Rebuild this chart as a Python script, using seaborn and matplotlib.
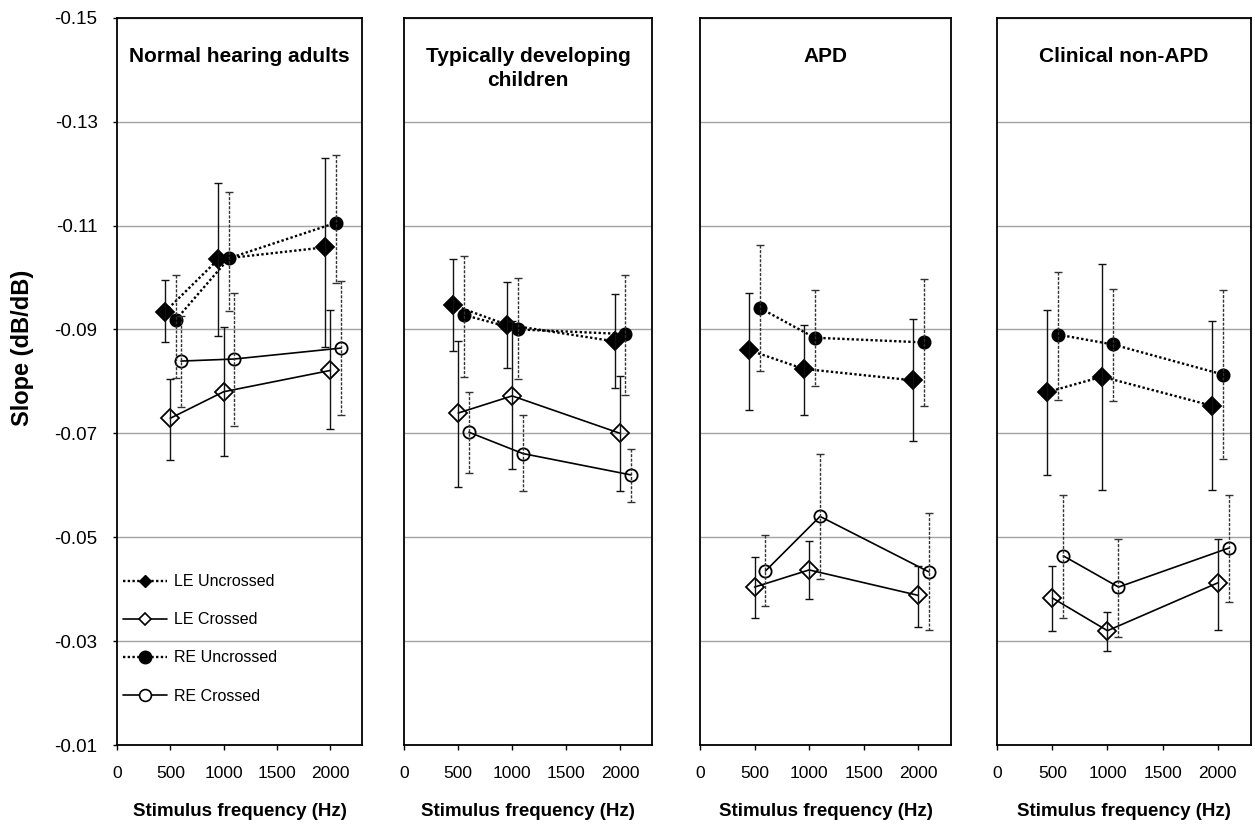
import numpy as np
import matplotlib
matplotlib.use("Agg")
import matplotlib.pyplot as plt
from matplotlib.lines import Line2D
import seaborn as sns

# ---------------- data ----------------
groups = ["Normal hearing adults", "Typically developing\nchildren", "APD", "Clinical non-APD"]
series_names = ["LE Uncrossed", "LE Crossed", "RE Uncrossed", "RE Crossed"]

# x positions (Hz), slightly offset per series
le_unc_x = [450, 950, 1950]
le_cr_x = [500, 1000, 2000]
re_unc_x = [550, 1050, 2050]
re_cr_x = [600, 1100, 2100]

# means (one row per group)
le_unc_mean = [[-0.0934, -0.1035, -0.1058],
               [-0.0947, -0.0909, -0.0877],
               [-0.0860, -0.0824, -0.0802],
               [-0.0779, -0.0809, -0.0753]]
le_unc_top = [[-0.0996, -0.1181, -0.1230],
              [-0.1035, -0.0991, -0.0969],
              [-0.0971, -0.0909, -0.0920],
              [-0.0938, -0.1026, -0.0917]]
le_unc_bot = [[-0.0875, -0.0888, -0.0867],
              [-0.0859, -0.0825, -0.0787],
              [-0.0744, -0.0736, -0.0685],
              [-0.0619, -0.0591, -0.0591]]

le_cr_mean = [[-0.0729, -0.0780, -0.0821],
              [-0.0739, -0.0772, -0.0700],
              [-0.0404, -0.0437, -0.0388],
              [-0.0383, -0.0320, -0.0412]]
le_cr_top = [[-0.0805, -0.0904, -0.0937],
             [-0.0877, -0.0917, -0.0811],
             [-0.0462, -0.0493, -0.0445],
             [-0.0445, -0.0356, -0.0497]]
le_cr_bot = [[-0.0649, -0.0656, -0.0708],
             [-0.0597, -0.0631, -0.0589],
             [-0.0345, -0.0381, -0.0328],
             [-0.0320, -0.0281, -0.0322]]

re_unc_mean = [[-0.0918, -0.1037, -0.1105],
               [-0.0928, -0.0900, -0.0891],
               [-0.0941, -0.0884, -0.0875],
               [-0.0890, -0.0871, -0.0813]]
re_unc_top = [[-0.1005, -0.1164, -0.1235],
              [-0.1042, -0.0999, -0.1005],
              [-0.1063, -0.0976, -0.0997],
              [-0.1011, -0.0977, -0.0976]]
re_unc_bot = [[-0.0806, -0.0936, -0.0990],
              [-0.0809, -0.0804, -0.0774],
              [-0.0819, -0.0792, -0.0753],
              [-0.0765, -0.0763, -0.0650]]

re_cr_mean = [[-0.0839, -0.0843, -0.0864],
              [-0.0702, -0.0661, -0.0620],
              [-0.0435, -0.0540, -0.0433],
              [-0.0464, -0.0404, -0.0479]]
re_cr_top = [[-0.0926, -0.0970, -0.0994],
             [-0.0780, -0.0735, -0.0670],
             [-0.0505, -0.0660, -0.0546],
             [-0.0581, -0.0497, -0.0581]]
re_cr_bot = [[-0.0750, -0.0715, -0.0735],
             [-0.0624, -0.0589, -0.0567],
             [-0.0368, -0.0420, -0.0322],
             [-0.0345, -0.0308, -0.0376]]

y_ticks = [-0.15, -0.13, -0.11, -0.09, -0.07, -0.05, -0.03, -0.01]
x_ticks = [0, 500, 1000, 1500, 2000]

# ---------------- style ----------------
sns.set_theme(style="white")
plt.rcParams["font.family"] = ["Liberation Sans", "DejaVu Sans"]
plt.rcParams["axes.unicode_minus"] = False
for key in ["text.color", "axes.labelcolor", "xtick.color", "ytick.color"]:
    plt.rcParams[key] = "black"

W, H = 1255, 825
fig = plt.figure(figsize=(W / 100, H / 100), dpi=100)

panel_px = [(117.0, 362.3), (404.3, 652.3), (700.0, 951.0), (997.3, 1250.7)]
top_px, bot_px = 17.7, 745.0

series_specs = [
    # x, mean, top, bot, marker, ms, filled, line style, lw, errbar dashed
    (le_unc_x, le_unc_mean, le_unc_top, le_unc_bot, "D", 9.0, True, (0, (1, 1)), 1.7, False),
    (le_cr_x, le_cr_mean, le_cr_top, le_cr_bot, "D", 9.0, False, "-", 1.2, False),
    (re_unc_x, re_unc_mean, re_unc_top, re_unc_bot, "o", 8.8, True, (0, (1, 1)), 1.7, True),
    (re_cr_x, re_cr_mean, re_cr_top, re_cr_bot, "o", 8.8, False, "-", 1.2, True),
]

axes = []
for gi, (x0, x1) in enumerate(panel_px):
    ax = fig.add_axes([x0 / W, 1 - bot_px / H, (x1 - x0) / W, (bot_px - top_px) / H])
    axes.append(ax)
    ax.set_xlim(0, 2300)
    ax.set_ylim(-0.01, -0.15)
    ax.set_yticks(y_ticks)
    ax.set_xticks(x_ticks)
    ax.grid(axis="y", color="#a3a3a3", linewidth=1.0)
    ax.grid(axis="x", visible=False)
    ax.set_axisbelow(True)
    for sp in ax.spines.values():
        sp.set_visible(True)
        sp.set_color("black")
        sp.set_linewidth(1.3)

    for (xs, mean, top, bot, mk, ms, filled, ls, lw, dashed_err) in series_specs:
        m = np.array(mean[gi])
        t = np.array(top[gi])
        b = np.array(bot[gi])
        lo = np.minimum(t, b)
        hi = np.maximum(t, b)
        sns.lineplot(x=xs, y=m, ax=ax, color="black", linestyle=ls, linewidth=lw,
                     marker=mk, markersize=ms,
                     markerfacecolor="black" if filled else "none",
                     markeredgecolor="black", markeredgewidth=1.3,
                     sort=False, legend=False, errorbar=None, zorder=3)
        eb = ax.errorbar(xs, m, yerr=[m - lo, hi - m], fmt="none",
                         ecolor="#111111" if not dashed_err else "#333333",
                         elinewidth=1.0, capsize=3, capthick=1.0, zorder=4)
        if dashed_err:
            for lc in eb[2]:
                lc.set_linestyle((0, (2.2, 1.1)))

    nlines = groups[gi].count("\n") + 1
    base_px = 61.7 + 24.3 * (nlines - 1)
    ax.text(0.5, (bot_px - base_px) / (bot_px - top_px), groups[gi], transform=ax.transAxes,
            ha="center", va="baseline", fontsize=15, fontweight="bold",
            linespacing=1.3, color="black")

    ax.tick_params(axis="x", direction="out", length=3.6, width=1.0, pad=11.5,
                   labelsize=12.5, colors="black", bottom=True)
    ax.set_xlabel("Stimulus frequency (Hz)", fontsize=13.5, fontweight="bold",
                  labelpad=16, color="black")
    if gi == 0:
        ax.tick_params(axis="y", direction="out", length=3, width=1.0, pad=11,
                       labelsize=13.5, left=True, colors="black")
        ax.set_yticklabels([f"{v:.2f}" for v in y_ticks])
    else:
        ax.tick_params(axis="y", left=False, labelleft=False)
    ax.set_ylabel("")

fig.text(23 / W, 1 - 348 / H, "Slope (dB/dB)", rotation=90, ha="center", va="center",
         fontsize=17, fontweight="bold", color="black")

# legend in first panel
handles = [
    Line2D([], [], color="black", linestyle=(0, (1, 1)), linewidth=1.7, marker="D",
           markersize=6, markerfacecolor="black", markeredgecolor="black"),
    Line2D([], [], color="black", linestyle="-", linewidth=1.2, marker="D",
           markersize=6, markerfacecolor="white", markeredgecolor="black", markeredgewidth=1.2),
    Line2D([], [], color="black", linestyle=(0, (1, 1)), linewidth=1.7, marker="o",
           markersize=9, markerfacecolor="black", markeredgecolor="black"),
    Line2D([], [], color="black", linestyle="-", linewidth=1.2, marker="o",
           markersize=8.5, markerfacecolor="white", markeredgecolor="black", markeredgewidth=1.2),
]
leg = axes[0].legend(handles, series_names, loc="center left",
                     bbox_to_anchor=(0.0, (bot_px - 638.9) / (bot_px - top_px)),
                     frameon=False, fontsize=11.5, handlelength=2.75, handletextpad=0.45,
                     labelspacing=1.45, borderaxespad=0.0, borderpad=0.4)
for txt in leg.get_texts():
    txt.set_color("black")

fig.savefig("out.png", dpi=100, facecolor="white")
